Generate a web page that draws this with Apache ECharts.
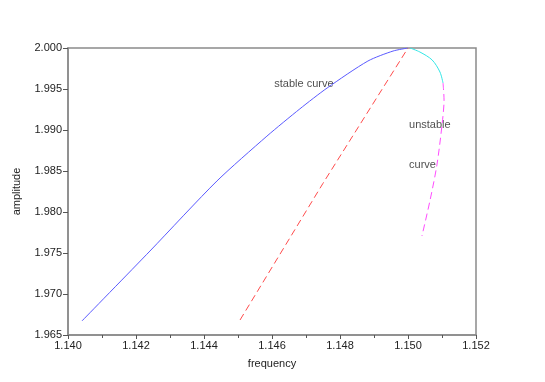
<!DOCTYPE html>
<html>
<head>
<meta charset="utf-8">
<script src="https://cdn.jsdelivr.net/npm/echarts@6/dist/echarts.min.js"></script>
<style>
  html, body { margin: 0; padding: 0; background: #fff; }
  #chart { width: 545px; height: 382px; }
</style>
</head>
<body>
<div id="chart"></div>
<script>
// curves: [frequency, amplitude]
var stableCurve = [
  [1.14041, 1.96671], [1.14241, 1.97524], [1.14438, 1.98378], [1.14585, 1.98925],
  [1.14682, 1.99258], [1.14762, 1.99512], [1.14882, 1.99841], [1.14956, 1.99963],
  [1.1500, 2.0000]
]
var stableBranch = [
  [1.14506, 1.96683], [1.1475, 1.98350], [1.1500, 2.0000]
]
var unstableTop = [
  [1.15006, 2.0000], [1.15035, 1.99951], [1.15071, 1.99854], [1.15094, 1.99707], [1.15103, 1.99573]
]
var unstableCurve = [
  [1.15103, 1.99573], [1.15106, 1.99366], [1.15100, 1.99061], [1.15085, 1.98573],
  [1.15065, 1.98146], [1.15041, 1.97707]
]
var notes = [
  { name: 'stable curve', value: [1.14694, 1.99561], pos: 'inside' },
  { name: 'unstable', value: [1.15003, 1.99061], pos: 'right' },
  { name: 'curve', value: [1.15003, 1.98573], pos: 'right' }
]

var chart = echarts.init(document.getElementById('chart'))
var axisGrey = '#8a8a8a'
var font = 'Liberation Sans, Arial, sans-serif'

chart.setOption({
  animation: false,
  backgroundColor: '#fff',
  grid: {
    left: 68, right: 69, top: 48, bottom: 47,
    show: true, borderColor: axisGrey, borderWidth: 1.5, backgroundColor: 'transparent'
  },
  xAxis: {
    type: 'value',
    min: 1.140, max: 1.152, interval: 0.002,
    name: 'frequency', nameLocation: 'middle', nameGap: 23,
    nameTextStyle: { color: '#222', fontSize: 11, fontFamily: font },
    axisLine: { show: true, lineStyle: { color: axisGrey, width: 1.5 } },
    axisTick: { show: true, inside: false, length: 4, lineStyle: { color: '#555' } },
    minorTick: { show: true, splitNumber: 2, length: 3, lineStyle: { color: '#555' } },
    splitLine: { show: false },
    axisLabel: {
      color: '#222', fontSize: 11, fontFamily: font, margin: 5,
      formatter: function (v) { return v.toFixed(3) }
    }
  },
  yAxis: {
    type: 'value',
    min: 1.965, max: 2.000, interval: 0.005,
    name: 'amplitude', nameLocation: 'middle', nameGap: 46, nameRotate: 90,
    nameTextStyle: { color: '#222', fontSize: 11, fontFamily: font },
    axisLine: { show: true, lineStyle: { color: axisGrey, width: 1.5 } },
    axisTick: { show: true, inside: false, length: 5, lineStyle: { color: '#555' } },
    splitLine: { show: false },
    axisLabel: {
      color: '#222', fontSize: 11, fontFamily: font, margin: 6,
      formatter: function (v) { return v.toFixed(3) }
    }
  },
  series: [
    {
      type: 'line', data: stableCurve, smooth: 0.25, showSymbol: false,
      lineStyle: { color: '#5a5aff', width: 1 }
    },
    {
      type: 'line', data: stableBranch, showSymbol: false,
      lineStyle: { color: '#ff4c4c', width: 1, type: [7, 4] }
    },
    {
      type: 'line', data: unstableTop, smooth: 0.3, showSymbol: false,
      lineStyle: { color: '#33e6e6', width: 1 }
    },
    {
      type: 'line', data: unstableCurve, smooth: 0.3, showSymbol: false,
      lineStyle: { color: '#ff4cff', width: 1, type: [7, 4] }
    },
    {
      type: 'scatter', symbolSize: 0, silent: true,
      data: notes.map(function (n) {
        return {
          value: n.value,
          label: {
            show: true, formatter: n.name, position: n.pos, distance: 0,
            color: '#222', fontSize: 11, fontFamily: font
          }
        }
      })
    }
  ]
})
</script>
</body>
</html>
